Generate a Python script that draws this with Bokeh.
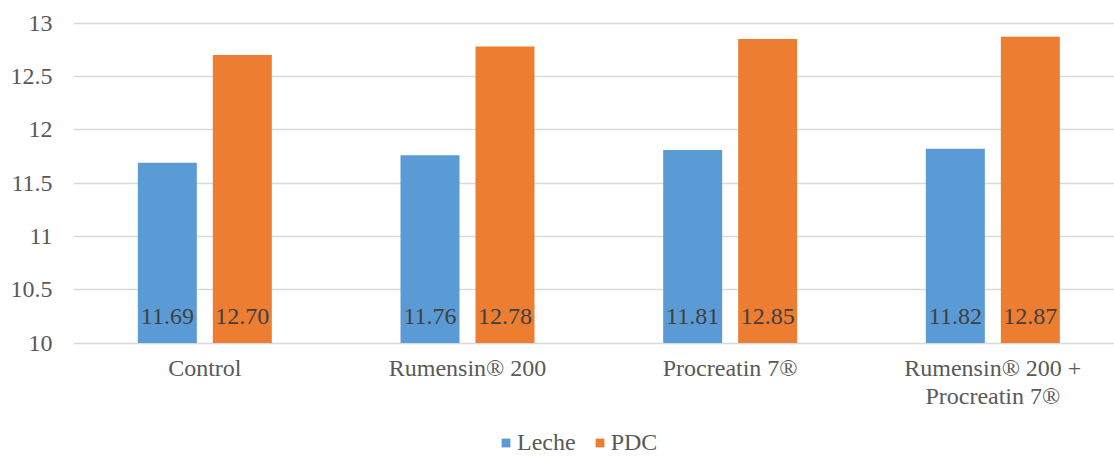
from bokeh.plotting import figure
from bokeh.models import Range1d, FixedTicker, Legend, LegendItem, ColumnDataSource
from bokeh.core.properties import value
from bokeh.embed import file_html
from bokeh.resources import INLINE

categories = ["Control", "Rumensin® 200", "Procreatin 7®", "Rumensin® 200 +\nProcreatin 7®"]
leche = [11.69, 11.76, 11.81, 11.82]
pdc = [12.70, 12.78, 12.85, 12.87]
y_ticks = [10, 10.5, 11, 11.5, 12, 12.5, 13]
y_tick_labels = ["10", "10.5", "11", "11.5", "12", "12.5", "13"]

BLUE = "#5B9BD5"
ORANGE = "#ED7D31"
FONT = "serif"

W, H = 1114, 456
BL = 73
group_px = 262.67
unit_px = 106.67
y_top = 13 + 22.5 / unit_px
y_bot = y_top - H / unit_px

p = figure(width=W, height=H, output_backend="svg", toolbar_location=None,
           x_axis_location=None,
           x_range=Range1d(0, (W - BL) / group_px), y_range=Range1d(y_bot, y_top),
           min_border_left=BL, min_border_right=0, min_border_top=0, min_border_bottom=0)
p.outline_line_color = None
p.background_fill_color = "white"

centers = [i + 0.5 for i in range(len(categories))]
off = 37.5 / group_px
bw = 59 / group_px

src = ColumnDataSource(dict(
    xl=[c - off for c in centers], xp=[c + off for c in centers],
    leche=leche, pdc=pdc,
    tl=["%.2f" % v for v in leche], tp=["%.2f" % v for v in pdc],
    base=[10] * len(categories)))
cat_src = ColumnDataSource(dict(x=centers, y=[10] * len(categories), cat=categories))

# gridlines (10 acts as the category axis line)
p.xgrid.grid_line_color = None
p.ygrid.ticker = FixedTicker(ticks=y_ticks)
p.ygrid.grid_line_color = "#D9D9D9"
p.ygrid.grid_line_width = 1.5

r1 = p.vbar(x="xl", top="leche", bottom=10, width=bw, source=src, fill_color=BLUE, line_color=None)
r2 = p.vbar(x="xp", top="pdc", bottom=10, width=bw, source=src, fill_color=ORANGE, line_color=None)

for col, xcol in (("tl", "xl"), ("tp", "xp")):
    p.text(x=xcol, y="base", text=col, source=src, y_offset=-27, text_align="center",
           text_baseline="middle", text_font=value(FONT), text_font_size="24px", text_color="#404040")

# category labels under the baseline
p.text(x="x", y="y", text="cat", source=cat_src, y_offset=12, text_align="center",
       text_baseline="top", text_line_height=1.08, text_font=value(FONT),
       text_font_size="24px", text_color="#595959")

p.yaxis.ticker = FixedTicker(ticks=y_ticks)
p.yaxis.major_label_overrides = {t: lab for t, lab in zip(y_ticks, y_tick_labels)}
p.yaxis.axis_line_color = None
p.yaxis.major_tick_line_color = None
p.yaxis.minor_tick_line_color = None
p.yaxis.major_tick_out = 0
p.yaxis.major_tick_in = 0
p.yaxis.major_label_standoff = 21
p.yaxis.major_label_text_font = FONT
p.yaxis.major_label_text_font_size = "24px"
p.yaxis.major_label_text_color = "#595959"

legend = Legend(items=[LegendItem(label="Leche", renderers=[r1]), LegendItem(label="PDC", renderers=[r2])],
                orientation="horizontal", location=(427, 0), glyph_width=11, glyph_height=11,
                label_standoff=6, spacing=18, padding=0, margin=0, label_height=20,
                label_text_font=FONT, label_text_font_size="24px", label_text_color="#595959",
                border_line_color=None, background_fill_alpha=0)
p.add_layout(legend, "center")

open("out.html", "w").write(file_html(p, INLINE))
